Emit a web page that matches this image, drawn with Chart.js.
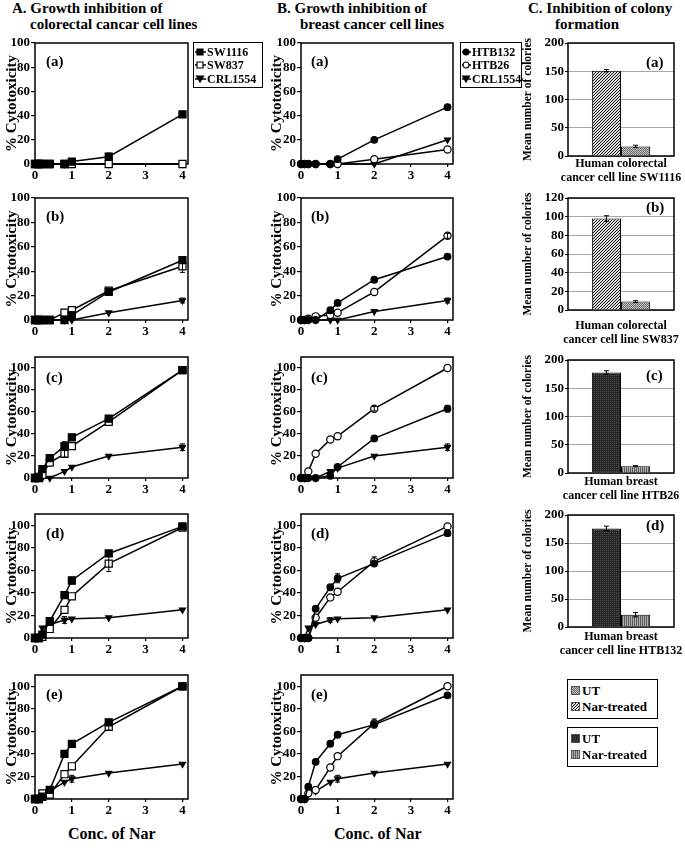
<!DOCTYPE html>
<html>
<head>
<meta charset="utf-8">
<script src="https://cdn.jsdelivr.net/npm/chart.js@4.4.0/dist/chart.umd.min.js"></script>
<style>
  body { margin: 0; background: #fff; }
  #page { position: relative; width: 685px; height: 850px; overflow: hidden;
          font-family: 'Liberation Serif', 'DejaVu Serif', serif; font-weight: bold; color: #000; }
  #page canvas { position: absolute; }
  .t { position: absolute; white-space: nowrap; font-size: 15px; line-height: 16px; }
  .lg { position: absolute; border: 1.5px solid #000; box-sizing: border-box; background: #fff; }
  .lg .row { position: absolute; font-size: 12px; line-height: 14px; white-space: nowrap; }
</style>
</head>
<body>
<div id="page"></div>
<script>
// concentrations of Nar (x values)
const conc = [0, 0.1, 0.2, 0.4, 0.8, 1, 2, 4];
const xTicks = [0, 1, 2, 3, 4];
const yTicks = [0, 20, 40, 60, 80, 100];
const panelNames = ["(a)", "(b)", "(c)", "(d)", "(e)"];

// A: colorectal lines, one row per panel (a)-(e)
const sw1116 = [
  [0, 0, 0, 0, 0, 2, 6, 41],
  [0, 0, 0, 0, 0, 4, 23, 49],
  [0, 1, 8, 18, 29, 37, 54, 98],
  [0, 0, 3, 15, 38, 51, 75, 99],
  [0, 0, 2, 8, 40, 49, 68, 100],
];
const sw837 = [
  [0, 0, 0, 0, 0, 0, 0, 0],
  [0, 0, 0, 0, 6, 8, 24, 44],
  [0, 0, 3, 14, 22, 29, 51, 98],
  [0, 0, 1, 8, 25, 37, 66, 98],
  [0, 0, 5, 4, 22, 29, 64, 100],
];
const crlA = [
  [0, 0, 0, 0, 0, 0, 0, 0],
  [0, 0, 0, 0, 0, 0, 6, 16],
  [0, 0, 0, 0, 6, 10, 20, 28],
  [0, 0, 9, 12, 16, 17, 18, 25],
  [0, 0, 3, 7, 15, 18, 23, 31],
];

// B: breast lines
const htb132 = [
  [0, 0, 0, 0, 0, 4, 20, 47],
  [0, 0, 0, 0, 8, 14, 33, 52],
  [0, 0, 0, 0, 2, 10, 36, 63],
  [0, 0, 0, 26, 45, 53, 66, 93],
  [0, 0, 11, 33, 49, 57, 66, 92],
];
const htb26 = [
  [0, 0, 0, 0, 0, 0, 4, 12],
  [0, 0, 1, 3, 4, 6, 23, 69],
  [0, 0, 6, 22, 35, 38, 63, 100],
  [0, 0, 0, 18, 36, 41, 68, 99],
  [0, 0, 5, 8, 28, 38, 67, 100],
];
const crlB = [
  [0, 0, 0, 0, 0, 0, 0, 20],
  [0, 0, 0, 0, 0, 0, 7, 16],
  [0, 0, 0, 0, 6, 9, 20, 28],
  [0, 0, 9, 12, 16, 17, 18, 25],
  [0, 0, 8, 7, 15, 18, 23, 31],
];

// error bars: [panel, point index, +/-]
const sw1116Err = [[0, 6, 3], [1, 7, 2], [2, 4, 4], [3, 5, 3], [4, 4, 3]];
const sw837Err = [[1, 7, 5], [2, 4, 3], [3, 6, 7], [4, 6, 3]];
const crlAErr = [[1, 7, 2], [2, 7, 3], [3, 4, 3], [4, 5, 3]];
const htb132Err = [[0, 7, 2], [2, 7, 3], [3, 5, 4]];
const htb26Err = [[1, 7, 2], [2, 6, 2], [3, 6, 4], [4, 6, 4]];
const crlBErr = [[1, 7, 2], [2, 7, 3], [3, 4, 2], [4, 5, 3]];

// C: colony formation
const barCats = [
  ["Human colorectal", "cancer cell line SW1116"],
  ["Human colorectal", "cancer cell line SW837"],
  ["Human breast", "cancer cell line HTB26"],
  ["Human breast", "cancer cell line HTB132"],
];
const barUT = [151, 98, 178, 176];
const barNar = [17, 9, 12, 22];
const barUTErr = [2, 3, 3, 4];
const barNarErr = [2, 1, 1, 4];
const barMax = [200, 120, 200, 200];
const barStep = [50, 20, 50, 50];

// ---- layout ----
const page = document.getElementById("page");
const rowTop = [43, 198, 357, 514, 675];
const rowBottom = [164, 320, 478, 638, 799];
const rowMax = [100, 100, 110, 110, 110];
const barTop = [43, 198, 360, 515];
const barBottom = [156, 310, 473, 627];
const barLabelPad = [1, 9, 2, 3];

Chart.defaults.font.family = "'Liberation Serif', 'DejaVu Serif', serif";
Chart.defaults.font.weight = "bold";
Chart.defaults.color = "#000";

function addCanvas(left, top, w, h) {
  const c = document.createElement("canvas");
  c.width = w; c.height = h;
  c.style.left = left + "px"; c.style.top = top + "px";
  c.style.width = w + "px"; c.style.height = h + "px";
  page.appendChild(c);
  return c;
}
function addText(txt, left, top, size, cls) {
  const d = document.createElement("div");
  d.className = cls || "t";
  d.textContent = txt;
  d.style.left = left + "px"; d.style.top = top + "px";
  if (size) d.style.fontSize = size + "px";
  page.appendChild(d);
  return d;
}

function pattern(size, draw) {
  const c = document.createElement("canvas");
  c.width = c.height = size;
  const g = c.getContext("2d");
  draw(g, size);
  return g.createPattern(c, "repeat");
}
const pats = {
  hatch: pattern(3, (g, s) => {
    g.fillStyle = "#ddd"; g.fillRect(0, 0, s, s);
    g.strokeStyle = "#111"; g.lineWidth = 1;
    g.beginPath();
    g.moveTo(0, s); g.lineTo(s, 0);
    g.moveTo(-1, 1); g.lineTo(1, -1);
    g.moveTo(s - 1, s + 1); g.lineTo(s + 1, s - 1);
    g.stroke();
  }),
  dots: pattern(2, g => {
    g.fillStyle = "#c4c4c4"; g.fillRect(0, 0, 2, 2);
    g.fillStyle = "#6a6a6a"; g.fillRect(0, 0, 1, 1); g.fillRect(1, 1, 1, 1);
  }),
  dark: pattern(2, g => {
    g.fillStyle = "#262626"; g.fillRect(0, 0, 2, 2);
    g.fillStyle = "#4a4a4a"; g.fillRect(0, 0, 1, 1);
  }),
  stripes: pattern(2, g => {
    g.fillStyle = "#b0b0b0"; g.fillRect(0, 0, 2, 2);
    g.fillStyle = "#5a5a5a"; g.fillRect(0, 0, 1, 2);
  }),
};

// frame around the plot area
const boxPlugin = {
  id: "box",
  beforeDatasetsDraw(c) {
    const { ctx, chartArea: a } = c;
    ctx.save();
    ctx.strokeStyle = "#000"; ctx.lineWidth = 1.5;
    ctx.strokeRect(a.left, a.top, a.right - a.left, a.bottom - a.top);
    ctx.restore();
  },
};
// error bars from dataset.err = [[index, err], ...]
const errPlugin = {
  id: "errbars",
  afterDatasetsDraw(c) {
    const ctx = c.ctx, y = c.scales.y;
    ctx.save();
    ctx.strokeStyle = "#000"; ctx.lineWidth = 1;
    c.data.datasets.forEach((ds, di) => {
      const meta = c.getDatasetMeta(di);
      (ds.err || []).forEach(([i, e]) => {
        const raw = ds.data[i];
        const v = typeof raw === "object" ? raw.y : raw;
        const px = meta.data[i].x;
        const y1 = y.getPixelForValue(v + e), y2 = y.getPixelForValue(v - e);
        ctx.beginPath();
        ctx.moveTo(px, y1); ctx.lineTo(px, y2);
        ctx.moveTo(px - 2.5, y1); ctx.lineTo(px + 2.5, y1);
        ctx.moveTo(px - 2.5, y2); ctx.lineTo(px + 2.5, y2);
        ctx.stroke();
      });
    });
    ctx.restore();
  },
};

function lineChart(left, yW, k, series) {
  const padTop = 9, xH = 22, w = 195;
  const plotTop = rowTop[k], plotBottom = rowBottom[k];
  const cv = addCanvas(left, plotTop - padTop, w, padTop + plotBottom - plotTop + xH);
  new Chart(cv, {
    type: "line",
    data: {
      datasets: series.map(s => ({
        label: s.name,
        data: conc.map((x, i) => ({ x: x, y: s.vals[k][i] })),
        err: s.err.filter(e => e[0] === k).map(e => [e[1], e[2]]),
        borderColor: "#000",
        borderWidth: 1.5,
        backgroundColor: s.fill,
        pointStyle: s.shape,
        pointRotation: s.rot || 0,
        pointRadius: s.r,
        pointBorderColor: "#000",
        pointBorderWidth: 1.2,
        tension: 0,
        clip: false,
      })),
    },
    options: {
      responsive: false, animation: false, events: [],
      layout: { padding: { top: padTop, right: 7, left: 0, bottom: 0 } },
      plugins: { legend: { display: false }, tooltip: { enabled: false } },
      scales: {
        x: {
          type: "linear", min: 0, max: 4.15,
          afterBuildTicks: s => { s.ticks = xTicks.map(v => ({ value: v })); },
          afterFit: s => { s.height = xH; },
          grid: { drawOnChartArea: false, tickLength: 3, color: "#000", lineWidth: 1.2 },
          border: { display: false },
          ticks: { padding: 1, font: { size: 13, weight: "bold" }, color: "#000", maxRotation: 0 },
        },
        y: {
          min: 0, max: rowMax[k],
          afterBuildTicks: s => { s.ticks = yTicks.map(v => ({ value: v })); },
          afterFit: s => { s.width = yW; },
          grid: { drawOnChartArea: false, tickLength: 4, color: "#000", lineWidth: 1.2 },
          border: { display: false },
          ticks: { padding: 1, font: { size: 13, weight: "bold" }, color: "#000" },
          title: { display: true, text: "% Cytotoxicity", color: "#000",
                   font: { size: 15, weight: "bold" }, padding: { top: 3, bottom: 0 } },
        },
      },
    },
    plugins: [boxPlugin, errPlugin],
  });
}

function barChart(k) {
  const padTop = 9, xH = 36;
  const cv = addCanvas(520, barTop[k] - padTop, 165, padTop + barBottom[k] - barTop[k] + xH);
  new Chart(cv, {
    type: "bar",
    data: {
      labels: [barCats[k]],
      datasets: [
        { label: "UT", data: [barUT[k]], err: [[0, barUTErr[k]]],
          backgroundColor: k < 2 ? pats.hatch : pats.dark, borderColor: "#000", borderWidth: 1 },
        { label: "Nar-treated", data: [barNar[k]], err: [[0, barNarErr[k]]],
          backgroundColor: k < 2 ? pats.dots : pats.stripes, borderColor: "#000", borderWidth: 1 },
      ],
    },
    options: {
      responsive: false, animation: false, events: [],
      categoryPercentage: 0.55, barPercentage: 1,
      layout: { padding: { top: padTop, right: 11, left: 0, bottom: 0 } },
      plugins: { legend: { display: false }, tooltip: { enabled: false } },
      scales: {
        x: {
          afterFit: s => { s.height = xH; s.paddingLeft = 0; s.paddingRight = 0; },
          grid: { display: false, drawTicks: false }, border: { display: false },
          ticks: { padding: barLabelPad[k], maxRotation: 0, autoSkip: false, color: "#000",
                   font: { size: 12, weight: "bold", lineHeight: 1.15 } },
        },
        y: {
          min: 0, max: barMax[k],
          afterFit: s => { s.width = 48; },
          grid: { color: "#a8a8a8", tickColor: "#000", tickLength: 3, lineWidth: 1 },
          border: { display: false },
          ticks: { stepSize: barStep[k], padding: 1, color: "#000", font: { size: 13, weight: "bold" } },
          title: { display: true, text: "Mean number of colories", color: "#000",
                   font: { size: 11.5, weight: "bold" }, padding: { top: 1, bottom: 0 } },
        },
      },
    },
    plugins: [boxPlugin, errPlugin],
  });
}

const colA = [
  { name: "SW1116", vals: sw1116, err: sw1116Err, shape: "rect", fill: "#000", r: 5 },
  { name: "SW837", vals: sw837, err: sw837Err, shape: "rect", fill: "#fff", r: 5 },
  { name: "CRL1554", vals: crlA, err: crlAErr, shape: "triangle", rot: 180, fill: "#000", r: 3.5 },
];
const colB = [
  { name: "HTB132", vals: htb132, err: htb132Err, shape: "circle", fill: "#000", r: 3.3 },
  { name: "HTB26", vals: htb26, err: htb26Err, shape: "circle", fill: "#fff", r: 3.6 },
  { name: "CRL1554", vals: crlB, err: crlBErr, shape: "triangle", rot: 180, fill: "#000", r: 3.5 },
];

const labY = [53, 208, 369, 525, 686];
for (let k = 0; k < 5; k++) {
  lineChart(0, 35, k, colA);
  lineChart(265, 36, k, colB);
  addText(panelNames[k], 46, labY[k]);
  addText(panelNames[k], 311, labY[k]);
}
const barLabY = [54, 199, 367, 517];
for (let k = 0; k < 4; k++) {
  barChart(k);
  addText(panelNames[k], 646, barLabY[k]);
}

// headings
addText("A. Growth inhibition of", 12, 0);
addText("colorectal cancar cell lines", 30, 16);
addText("B. Growth inhibition of", 277, 0);
addText("breast cancer cell lines", 300, 16);
addText("C. Inhibition of colony", 528, 0);
addText("formation", 555, 16);
addText("Conc. of Nar", 68, 826, 16);
addText("Conc. of Nar", 334, 826, 16);

// legends
function swatchMarker(s, w, mx) {
  const c = document.createElement("canvas");
  c.width = w; c.height = 10;
  c.style.position = "absolute"; c.style.left = "0px"; c.style.top = "2px";
  const g = c.getContext("2d");
  g.strokeStyle = "#000"; g.lineWidth = 1.5;
  g.beginPath(); g.moveTo(0, 5); g.lineTo(w, 5); g.stroke();
  g.fillStyle = s.fill; g.lineWidth = 1.2;
  g.beginPath();
  if (s.shape === "rect") g.rect(mx - 3, 2, 6, 6);
  else if (s.shape === "circle") g.arc(mx, 5, 3, 0, Math.PI * 2);
  else { g.moveTo(mx - 3.5, 2); g.lineTo(mx + 3.5, 2); g.lineTo(mx, 8); g.closePath(); }
  g.fill(); g.stroke();
  return c;
}
function lineLegend(left, top, w, series, swW, mx) {
  const box = document.createElement("div");
  box.className = "lg";
  box.style.left = left + "px"; box.style.top = top + "px";
  box.style.width = w + "px"; box.style.height = "46px";
  series.forEach((s, i) => {
    const row = document.createElement("div");
    row.className = "row";
    row.style.left = "1px"; row.style.top = (1.5 + i * 13.5) + "px";
    row.style.paddingLeft = (swW + 1) + "px";
    row.appendChild(swatchMarker(s, swW, mx));
    row.appendChild(document.createTextNode(s.name));
    box.appendChild(row);
  });
  page.appendChild(box);
}
lineLegend(193, 42, 70, colA, 11, 5);
lineLegend(460, 42, 62, colB, 9, 4);

function barLegend(top, fills) {
  const box = document.createElement("div");
  box.className = "lg";
  box.style.left = "567px"; box.style.top = top + "px";
  box.style.width = "91px"; box.style.height = "40px";
  ["UT", "Nar-treated"].forEach((name, i) => {
    const row = document.createElement("div");
    row.className = "row";
    row.style.fontSize = "13px";
    row.style.left = "3px"; row.style.top = (4 + i * 16) + "px";
    row.style.paddingLeft = "11px";
    const c = document.createElement("canvas");
    c.width = 9; c.height = 9;
    c.style.position = "absolute"; c.style.left = "0px"; c.style.top = "2px";
    const g = c.getContext("2d");
    g.fillStyle = fills[i]; g.fillRect(0, 0, 9, 9);
    g.strokeStyle = "#555"; g.lineWidth = 1; g.strokeRect(0.5, 0.5, 8, 8);
    row.appendChild(c);
    row.appendChild(document.createTextNode(name));
    box.appendChild(row);
  });
  page.appendChild(box);
}
barLegend(679, [pats.dots, pats.hatch]);
barLegend(727, [pats.dark, pats.stripes]);
</script>
</body>
</html>
